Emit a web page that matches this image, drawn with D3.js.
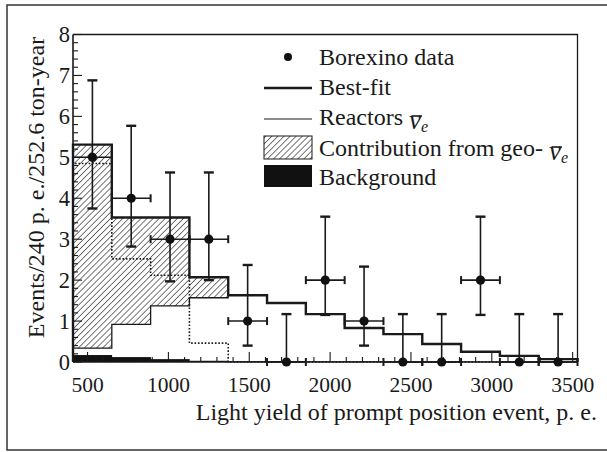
<!DOCTYPE html>
<html>
<head>
<meta charset="utf-8">
<script src="https://cdn.jsdelivr.net/npm/d3@7"></script>
<style>
  html, body { margin: 0; padding: 0; background: #fff; }
  svg { display: block; }
  text { font-family: "Liberation Serif", "Times New Roman", "DejaVu Serif", serif; fill: #1a1a1a; }
</style>
</head>
<body>
<script>
// ---------- data ----------
const binCenters = [530, 770, 1010, 1250, 1490, 1730, 1970, 2210, 2450, 2690, 2930, 3170, 3410];
const binWidth = 240;
const bestFit    = [5.31, 3.53, 3.53, 2.07, 1.63, 1.44, 1.17, 0.83, 0.68, 0.44, 0.25, 0.15, 0.07];
const reactors   = [0.34, 0.92, 1.37, 1.57, 1.63, 1.44, 1.17, 0.83, 0.68, 0.44, 0.25, 0.15, 0.07];
const geoOnly    = [4.85, 2.52, 2.12, 0.46, 0, 0, 0, 0, 0, 0, 0, 0, 0];
const background = [0.17, 0.12, 0.07, 0.03, 0.02, 0.02, 0.015, 0.015, 0.01, 0.01, 0.01, 0.01, 0.01];
const dataCounts = [5, 4, 3, 3, 1, 0, 2, 1, 0, 0, 2, 0, 0];
const errLow     = [3.75, 2.82, 1.97, 2.0, 0.4, 0, 1.15, 0.4, 0, 0, 1.15, 0, 0];
const errHigh    = [6.88, 5.77, 4.63, 4.63, 2.37, 1.17, 3.55, 2.33, 1.17, 1.17, 3.55, 1.17, 1.17];
const xTickLabels = [500, 1000, 1500, 2000, 2500, 3000, 3500];
const yTickLabels = [0, 1, 2, 3, 4, 5, 6, 7, 8];
const xTitle = "Light yield of prompt position event, p. e.";
const yTitle = "Events/240 p. e./252.6 ton-year";

// ---------- layout ----------
const W = 607, H = 452;
const svg = d3.select("body").append("svg").attr("width", W).attr("height", H);
const ink = "#1a1a1a";

const x = d3.scaleLinear().domain([410, 3530]).range([73, 577.5]);
const y = d3.scaleLinear().domain([0, 8]).range([362, 34.5]);

// outer frame
svg.append("rect").attr("x", 7).attr("y", 5).attr("width", 620).attr("height", 445)
  .attr("fill", "none").attr("stroke", "#333").attr("stroke-width", 1.5);

// hatch pattern
const defs = svg.append("defs");
const pat = defs.append("pattern").attr("id", "hatch").attr("patternUnits", "userSpaceOnUse")
  .attr("width", 4.3).attr("height", 4.3).attr("patternTransform", "rotate(45)");
pat.append("line").attr("x1", 0).attr("y1", -1).attr("x2", 0).attr("y2", 6)
  .attr("stroke", ink).attr("stroke-width", 1.2);

const bins = binCenters.map((c, i) => ({
  lo: c - binWidth / 2, hi: c + binWidth / 2, c,
  best: bestFit[i], reac: reactors[i], geo: geoOnly[i], bg: background[i],
  n: dataCounts[i], el: errLow[i], eh: errHigh[i]
}));

const g = svg.append("g");

// hatched geo contribution (between reactors and best-fit)
g.selectAll("rect.hatch").data(bins.filter(d => d.best > d.reac)).join("rect")
  .attr("class", "hatch")
  .attr("x", d => x(d.lo)).attr("width", d => x(d.hi) - x(d.lo))
  .attr("y", d => y(d.best)).attr("height", d => y(d.reac) - y(d.best))
  .attr("fill", "url(#hatch)");

// background
g.selectAll("rect.bg").data(bins).join("rect")
  .attr("class", "bg")
  .attr("x", d => x(d.lo)).attr("width", d => x(d.hi) - x(d.lo) + 0.3)
  .attr("y", d => y(d.bg)).attr("height", d => y(0) - y(d.bg))
  .attr("fill", "#111");

// step helper
function stepPath(key) {
  const pts = [[x(bins[0].lo), y(0)]];
  bins.forEach(d => { pts.push([x(d.lo), y(d[key])]); pts.push([x(d.hi), y(d[key])]); });
  pts.push([x(bins[bins.length - 1].hi), y(0)]);
  return d3.line()(pts);
}

// geo only dotted
g.append("path").attr("d", stepPath("geo")).attr("fill", "none")
  .attr("stroke", ink).attr("stroke-width", 1.6).attr("stroke-dasharray", "1.6,1.8");
// reactors thin
g.append("path").attr("d", stepPath("reac")).attr("fill", "none")
  .attr("stroke", ink).attr("stroke-width", 1.3);
// best fit thick
g.append("path").attr("d", stepPath("best")).attr("fill", "none")
  .attr("stroke", ink).attr("stroke-width", 2.4);

// plot frame (top/right)
svg.append("path").attr("d", d3.line()([[x(410), y(8)], [x(3530), y(8)], [x(3530), y(0)]]))
  .attr("fill", "none").attr("stroke", ink).attr("stroke-width", 1.3);

// axes
const xAxis = svg.append("g");
xAxis.append("line").attr("x1", x(410)).attr("x2", x(3530)).attr("y1", y(0)).attr("y2", y(0))
  .attr("stroke", ink).attr("stroke-width", 1.6);
const xMinor = d3.range(500, 3531, 100);
xAxis.selectAll("line.t").data(xMinor).join("line").attr("class", "t")
  .attr("x1", d => x(d)).attr("x2", d => x(d))
  .attr("y1", y(0)).attr("y2", d => y(0) - (d % 500 === 0 ? 10 : 5))
  .attr("stroke", ink).attr("stroke-width", 1.1);
xAxis.selectAll("text").data(xTickLabels).join("text")
  .attr("x", d => x(d)).attr("y", 392).attr("text-anchor", "middle")
  .attr("font-size", 21.5).text(d => d);

const yAxis = svg.append("g");
yAxis.append("line").attr("x1", x(410)).attr("x2", x(410)).attr("y1", y(0)).attr("y2", y(8))
  .attr("stroke", ink).attr("stroke-width", 1.6);
const yMinor = d3.range(0, 8.001, 0.2);
yAxis.selectAll("line.t").data(yMinor).join("line").attr("class", "t")
  .attr("x1", x(410)).attr("x2", d => x(410) + (Math.abs(d - Math.round(d)) < 1e-6 ? 9 : 5))
  .attr("y1", d => y(d)).attr("y2", d => y(d))
  .attr("stroke", ink).attr("stroke-width", 1.1);
yAxis.selectAll("text").data(yTickLabels).join("text")
  .attr("x", 70).attr("y", d => y(d) + 7.5).attr("text-anchor", "end")
  .attr("font-size", 22.5).text(d => d);

// axis titles
svg.append("text").attr("x", 597).attr("y", 420).attr("text-anchor", "end")
  .attr("font-size", 24).text(xTitle);
svg.append("text").attr("transform", "translate(43.5,187.5) rotate(-90)").attr("text-anchor", "middle")
  .attr("font-size", 24).text(yTitle);

// data points with error bars
const pts = svg.append("g");
bins.forEach(d => {
  const cx = x(d.c), cy = y(d.n);
  pts.append("line").attr("x1", cx).attr("x2", cx).attr("y1", y(d.el)).attr("y2", y(d.eh))
    .attr("stroke", ink).attr("stroke-width", 1.6);
  pts.append("line").attr("x1", cx - 5).attr("x2", cx + 5).attr("y1", y(d.eh)).attr("y2", y(d.eh))
    .attr("stroke", ink).attr("stroke-width", 2.4);
  if (d.el > 0) pts.append("line").attr("x1", cx - 5).attr("x2", cx + 5).attr("y1", y(d.el)).attr("y2", y(d.el))
    .attr("stroke", ink).attr("stroke-width", 2.4);
  pts.append("line").attr("x1", x(d.lo)).attr("x2", x(d.hi)).attr("y1", cy).attr("y2", cy)
    .attr("stroke", ink).attr("stroke-width", 1.6);
  [d.lo, d.hi].forEach(v => pts.append("line").attr("x1", x(v)).attr("x2", x(v))
    .attr("y1", cy - 4).attr("y2", cy + 4).attr("stroke", ink).attr("stroke-width", 2));
  pts.append("circle").attr("cx", cx).attr("cy", cy).attr("r", 4.6).attr("fill", "#111");
});

// legend
const leg = svg.append("g");
const lx0 = 264, lx1 = 312, tx = 319, fs = 24;
leg.append("circle").attr("cx", 288).attr("cy", 57).attr("r", 4).attr("fill", "#111");
leg.append("text").attr("x", tx).attr("y", 65).attr("font-size", fs).text("Borexino data");
leg.append("line").attr("x1", lx0).attr("x2", lx1).attr("y1", 88).attr("y2", 88)
  .attr("stroke", ink).attr("stroke-width", 2.4);
leg.append("text").attr("x", tx).attr("y", 95).attr("font-size", fs).text("Best-fit");
leg.append("line").attr("x1", lx0).attr("x2", lx1).attr("y1", 119).attr("y2", 119)
  .attr("stroke", ink).attr("stroke-width", 1.2);

function nuBar(t, baseY) {
  t.append("tspan").attr("font-style", "italic").attr("font-size", 27).attr("dy", 4).text("\u03BD");
  t.append("tspan").attr("font-style", "italic").attr("font-size", 16).attr("dy", 3).text("e");
  const node = t.node();
  const idx = node.textContent.indexOf("\u03BD");
  const ext = node.getExtentOfChar(idx);
  leg.append("line").attr("x1", ext.x + 2.5).attr("x2", ext.x + ext.width + 1)
    .attr("y1", baseY - 9).attr("y2", baseY - 9).attr("stroke", ink).attr("stroke-width", 1.6);
}
const t3 = leg.append("text").attr("x", tx).attr("y", 125).attr("font-size", fs);
t3.append("tspan").text("Reactors ");
nuBar(t3, 125);
leg.append("rect").attr("x", lx0).attr("y", 136).attr("width", lx1 - lx0).attr("height", 23)
  .attr("fill", "url(#hatch)").attr("stroke", ink).attr("stroke-width", 1);
const t4 = leg.append("text").attr("x", tx).attr("y", 156).attr("font-size", fs);
t4.append("tspan").text("Contribution from geo- ");
nuBar(t4, 156);
leg.append("rect").attr("x", lx0).attr("y", 165).attr("width", lx1 - lx0).attr("height", 22)
  .attr("fill", "#111");
leg.append("text").attr("x", tx).attr("y", 185).attr("font-size", fs).text("Background");
</script>
</body>
</html>
